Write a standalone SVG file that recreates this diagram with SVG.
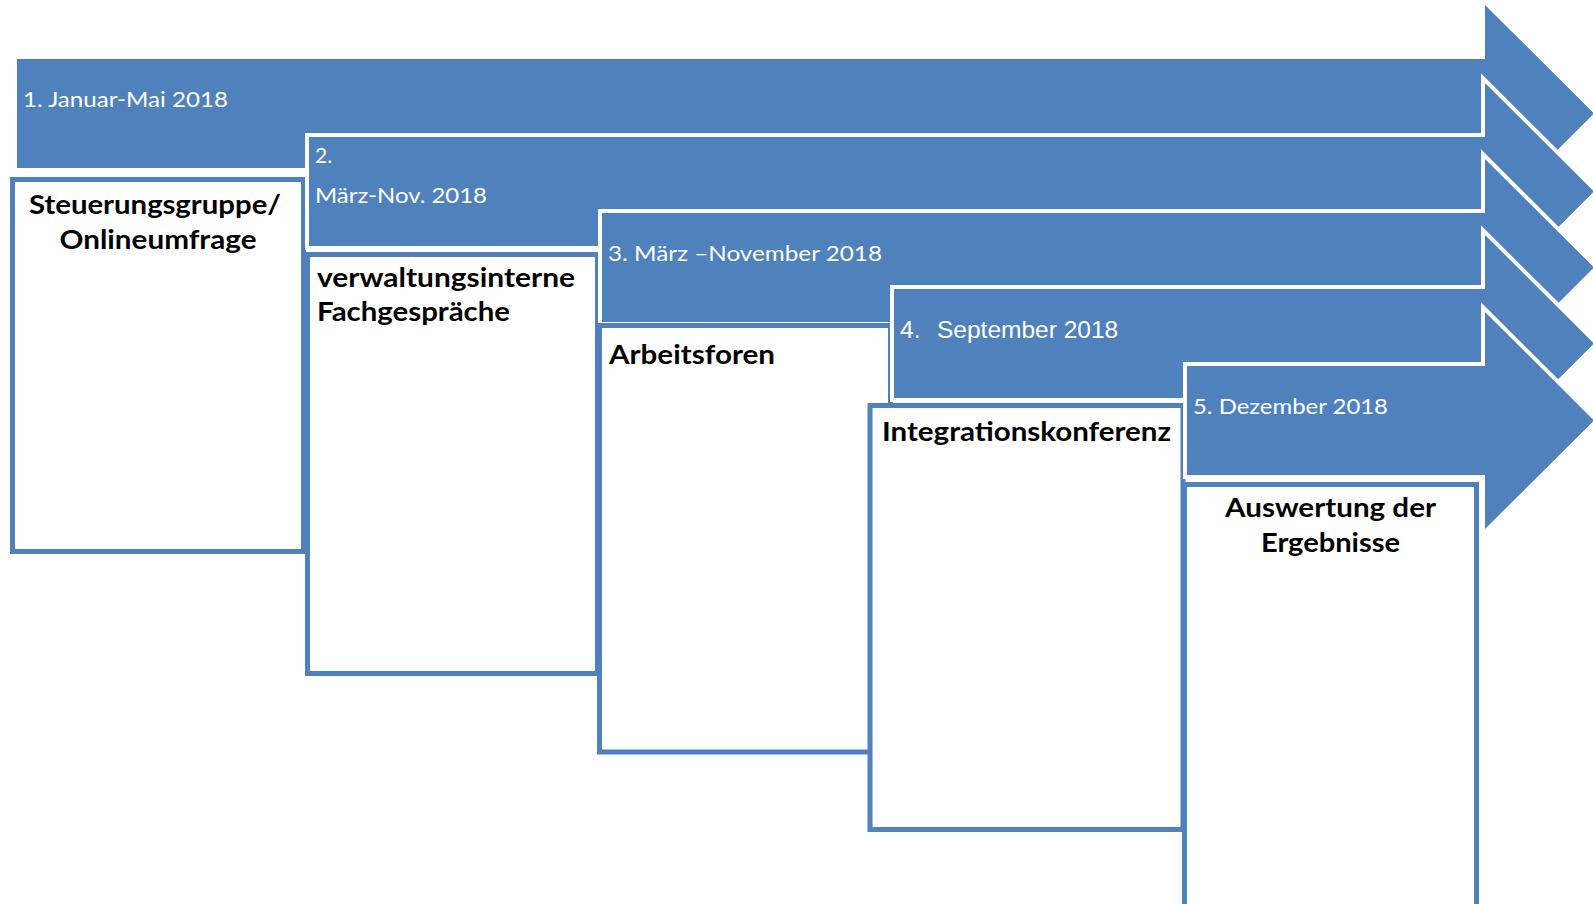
<svg xmlns="http://www.w3.org/2000/svg" width="1593" height="904" viewBox="0 0 1593 904">
<style>
.arrow{fill:#4F81BD;stroke:#FFFFFF;stroke-width:8;paint-order:stroke;stroke-linejoin:miter;stroke-miterlimit:10}
.box{fill:#FFFFFF;stroke:#4F81BD;stroke-width:5}
.lbl{font-family:Lato,"Liberation Sans",sans-serif;font-size:21px;fill:#FFFFFF}
.lbl2{font-family:"Liberation Sans",Arial,sans-serif;font-size:24.5px;fill:#FFFFFF}
.ttl{font-family:Lato,"Liberation Sans",sans-serif;font-size:26px;font-weight:bold;fill:#000000}
</style>
<rect width="1593" height="904" fill="#FFFFFF"/>
<g id="phase1">
<path class="arrow" d="M17,59 H1485 V5 L1594,113.5 L1485,222 V168 H17 Z"/>
<text class="lbl" x="23" y="107" textLength="205" lengthAdjust="spacingAndGlyphs">1. Januar-Mai 2018</text>
<rect class="box" x="12.5" y="179.5" width="291" height="372"/>
<text class="ttl" x="155" y="214" text-anchor="middle" textLength="252" lengthAdjust="spacingAndGlyphs">Steuerungsgruppe/</text>
<text class="ttl" x="158" y="249" text-anchor="middle" textLength="197" lengthAdjust="spacingAndGlyphs">Onlineumfrage</text>
</g>
<g id="phase2">
<path class="arrow" d="M309,137 H1485 V83 L1594,191.5 L1485,300 V246 H309 Z"/>
<text class="lbl" x="315" y="163">2.</text>
<text class="lbl" x="315" y="203" textLength="172" lengthAdjust="spacingAndGlyphs">März-Nov. 2018</text>
<rect class="box" x="307.5" y="254.5" width="290" height="419"/>
<text class="ttl" x="317" y="287" textLength="258" lengthAdjust="spacingAndGlyphs">verwaltungsinterne</text>
<text class="ttl" x="317" y="321" textLength="193" lengthAdjust="spacingAndGlyphs">Fachgespräche</text>
</g>
<g id="phase3">
<path class="arrow" d="M602,213 H1485 V159 L1594,267.5 L1485,376 V322 H602 Z"/>
<text class="lbl" x="608" y="261" textLength="274" lengthAdjust="spacingAndGlyphs">3. März –November 2018</text>
<rect class="box" x="599.5" y="325.5" width="291" height="426.5"/>
<text class="ttl" x="609" y="364" textLength="166" lengthAdjust="spacingAndGlyphs">Arbeitsforen</text>
</g>
<g id="phase4">
<path class="arrow" d="M894,289 H1485 V235 L1594,343.5 L1485,452 V398 H894 Z"/>
<text class="lbl2" y="338"><tspan x="900">4.</tspan><tspan x="937">September 2018</tspan></text>
<rect class="box" x="870" y="405.5" width="313" height="424"/>
<text class="ttl" x="882" y="441" textLength="289" lengthAdjust="spacingAndGlyphs">Integrationskonferenz</text>
</g>
<g id="phase5">
<path class="arrow" d="M1187,366 H1485 V312 L1594,420.5 L1485,529 V475 H1187 Z"/>
<text class="lbl" x="1193" y="414" textLength="195" lengthAdjust="spacingAndGlyphs">5. Dezember 2018</text>
<rect class="box" x="1184.5" y="484.5" width="292" height="440"/>
<text class="ttl" x="1330.5" y="517" text-anchor="middle" textLength="211" lengthAdjust="spacingAndGlyphs">Auswertung der</text>
<text class="ttl" x="1330.5" y="552" text-anchor="middle" textLength="139" lengthAdjust="spacingAndGlyphs">Ergebnisse</text>
</g>
<g id="connectors"></g>
</svg>
